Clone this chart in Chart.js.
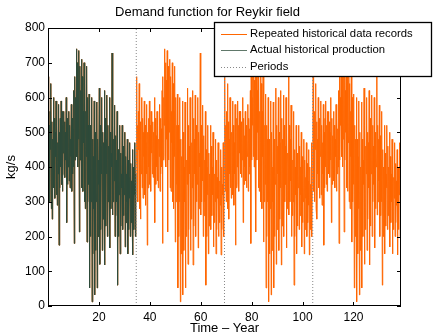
<!DOCTYPE html>
<html><head><meta charset="utf-8">
<script src="https://cdn.jsdelivr.net/npm/chart.js@4/dist/chart.umd.min.js"></script>
<style>html,body{margin:0;padding:0;background:#fff}#wrap{width:433px;height:335px;position:relative}</style>
</head><body><div id="wrap"><canvas id="c"></canvas></div>
<script>
const chartTitle = 'Demand function for Reykir field';
const xAxisTitle = 'Time – Year';
const yAxisTitle = 'kg/s';
const seriesLabels = ['Repeated historical data records', 'Actual historical production', 'Periods'];
// one historical record, sampled every 2 months (kg/s)
const historicalRecord = [
  420,660,330,520,300,560,  450,640,280,530,250,480,  380,600,340,540,310,500,
  430,590,320,520,290,470,  380,580,175,500,340,540,  400,590,350,520,330,560,
  440,560,380,530,370,500,  420,600,240,540,350,490,  400,560,360,520,340,480,
  430,580,330,540,380,510,  400,620,180,660,420,600,  520,740,430,700,400,650,
  480,735,213,690,420,620,  500,710,340,660,330,560,  470,700,300,640,280,560,
  430,690,184,600,300,520,  350,610,52,520,200,480,   300,600,12,480,150,430,
  280,590,32,500,160,400,   300,587,52,480,200,420,   350,627,120,520,220,460,
  380,600,160,500,250,470,  340,620,118,540,230,480,  380,607,200,520,300,460,
  350,600,167,500,280,440,  400,728,262,520,300,480,  360,578,200,490,260,420,
  300,560,60,450,200,400,   320,520,150,440,230,380,  340,520,220,460,260,400,
  320,500,170,430,240,380,  300,480,150,420,220,370,  310,470,200,410,240,360,
  290,450,147,400,220,350,  320,470,200,380
];
const yearsPerSample = 2 / 12;
const repeatCount = 4;
const periodBoundaries = [34.67, 69.33, 104];
const xTickValues = [20, 40, 60, 80, 100, 120];
const yTickValues = [0, 100, 200, 300, 400, 500, 600, 700, 800];
const xMin = 0, xMax = 138.67, yMin = 0, yMax = 800;

const orange = '#ff6600', green = '#2e4a3a', gray = '#888888';
const FONT = "'Liberation Sans', Arial, Helvetica, sans-serif";

const repeated = [];
for (let i = 0; i < historicalRecord.length * repeatCount; i++) {
  repeated.push({x: i * yearsPerSample, y: historicalRecord[i % historicalRecord.length]});
}
const actual = historicalRecord.map((v, i) => ({x: i * yearsPerSample, y: v}));
const periodData = periodBoundaries.flatMap(p => [{x: p, y: yMin}, {x: p, y: yMax}, {x: p, y: null}]);

const framePlugin = {
  id: 'frame',
  afterDraw(chart) {
    const {ctx, chartArea: a, scales} = chart;
    ctx.save();
    // frame
    ctx.strokeStyle = '#000'; ctx.lineWidth = 1;
    ctx.strokeRect(Math.round(a.left) + 0.5, Math.round(a.top) + 0.5, Math.round(a.right - a.left) - 1, Math.round(a.bottom - a.top) - 1);
    const tl = 4;
    ctx.beginPath();
    xTickValues.forEach(v => {
      const px = Math.round(scales.x.getPixelForValue(v)) + 0.5;
      ctx.moveTo(px, a.bottom); ctx.lineTo(px, a.bottom - tl);
      ctx.moveTo(px, a.top); ctx.lineTo(px, a.top + tl);
    });
    yTickValues.forEach(v => {
      const py = Math.round(scales.y.getPixelForValue(v)) + 0.5;
      ctx.moveTo(a.left, py); ctx.lineTo(a.left + tl, py);
      ctx.moveTo(a.right, py); ctx.lineTo(a.right - tl, py);
    });
    ctx.stroke();
    // title
    ctx.fillStyle = '#000';
    ctx.font = '13px ' + FONT;
    ctx.textAlign = 'center'; ctx.textBaseline = 'middle';
    ctx.fillText(chartTitle, 207.5, 12);
    // legend
    const L = 214, T = 22, R = 432, B = 77;
    ctx.fillStyle = '#fff'; ctx.fillRect(L, T, R - L, B - T);
    ctx.strokeStyle = '#000'; ctx.lineWidth = 1.3;
    ctx.strokeRect(L + 0.5, T + 0.5, R - L - 1, B - T - 1);
    const ds = chart.data.datasets;
    const order = [1, 0, 2];
    ctx.font = '11.3px ' + FONT;
    ctx.textAlign = 'left';
    order.forEach((di, k) => {
      const d = ds[di];
      const y = T + 11.5 + k * 16.7;
      ctx.beginPath();
      ctx.strokeStyle = d.legendColor || d.borderColor;
      ctx.lineWidth = 1;
      ctx.setLineDash(d.borderDash || []);
      ctx.moveTo(221, Math.round(y) + 0.5); ctx.lineTo(247, Math.round(y) + 0.5);
      ctx.stroke();
      ctx.setLineDash([]);
      ctx.fillStyle = '#000';
      ctx.fillText(d.label, 250, y);
    });
    ctx.restore();
  }
};

new Chart(document.getElementById('c'), {
  type: 'line',
  data: {
    datasets: [
      {label: seriesLabels[1], data: actual, borderColor: green, legendColor: '#60786a', borderWidth: 1, pointRadius: 0, order: 1},
      {label: seriesLabels[0], data: repeated, borderColor: orange, borderWidth: 1, pointRadius: 0, order: 2},
      {label: seriesLabels[2], data: periodData, borderColor: gray, borderWidth: 1, borderDash: [1, 2], pointRadius: 0, spanGaps: false, order: 0}
    ]
  },
  options: {
    responsive: true, maintainAspectRatio: false, animation: false,
    devicePixelRatio: 1,
    layout: {padding: {top: 28, right: 32, left: 0, bottom: 0}},
    plugins: {legend: {display: false}, title: {display: false}, tooltip: {enabled: false}},
    scales: {
      x: {
        type: 'linear', min: xMin, max: xMax,
        grid: {display: false, drawTicks: false}, border: {display: false},
        afterBuildTicks: s => { s.ticks = xTickValues.map(v => ({value: v})); },
        afterFit: s => { s.height = 29; },
        ticks: {font: {family: FONT, size: 12}, color: '#000', padding: 4, maxRotation: 0, autoSkip: false},
        title: {display: true, text: xAxisTitle, font: {family: FONT, size: 13, lineHeight: 1}, color: '#000', padding: {top: 0, bottom: 0}}
      },
      y: {
        type: 'linear', min: yMin, max: yMax,
        grid: {display: false, drawTicks: false}, border: {display: false},
        afterBuildTicks: s => { s.ticks = yTickValues.map(v => ({value: v})); },
        afterFit: s => { s.width = 48; },
        ticks: {font: {family: FONT, size: 12}, color: '#000', padding: 3},
        title: {display: true, text: yAxisTitle, font: {family: FONT, size: 13, lineHeight: 1}, color: '#000', padding: {top: 5, bottom: 0}}
      }
    }
  },
  plugins: [framePlugin]
});
</script></body></html>
